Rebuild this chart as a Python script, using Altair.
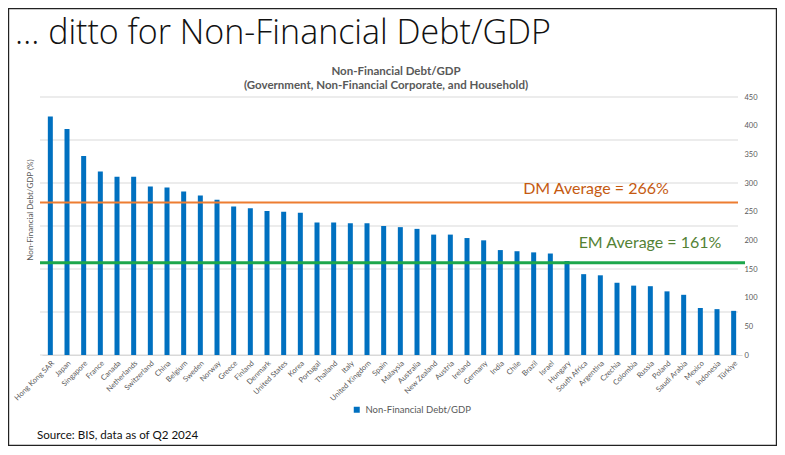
import altair as alt
import pandas as pd

countries = ["Hong Kong SAR", "Japan", "Singapore", "France", "Canada", "Netherlands",
             "Switzerland", "China", "Belgium", "Sweden", "Norway", "Greece", "Finland",
             "Denmark", "United States", "Korea", "Portugal", "Thailand", "Italy",
             "United Kingdom", "Spain", "Malaysia", "Australia", "New Zealand", "Austria",
             "Ireland", "Germany", "India", "Chile", "Brazil", "Israel", "Hungary",
             "South Africa", "Argentina", "Czechia", "Colombia", "Russia", "Poland",
             "Saudi Arabia", "Mexico", "Indonesia", "Türkiye"]
debt_gdp = [416, 394, 347, 320, 311, 311, 294, 292, 285, 278, 271, 259, 256, 251, 250,
            248, 231, 231, 230, 230, 225, 223, 220, 210, 210, 204, 200, 183, 181, 179,
            177, 164, 141, 139, 126, 121, 120, 111, 105, 82, 80, 77]
series_name = "Non-Financial Debt/GDP"
avg_labels = ["DM Average = 266%", "EM Average = 161%"]
avg_values = [266, 161]
y_ticks = [0, 50, 100, 150, 200, 250, 300, 350, 400, 450]
grid_values = [0, 75, 150, 225, 300, 375, 450]

heading = "… ditto for Non-Financial Debt/GDP"
title_line1 = "Non-Financial Debt/GDP"
title_line2 = "(Government, Non-Financial Corporate, and Household)"
y_title = "Non-Financial Debt/GDP (%)"
source_text = "Source: BIS, data as of Q2 2024"

W, H = 700, 258
FONT = "Lato"
GRAY = "#595959"

df = pd.DataFrame({"country": countries, "value": debt_gdp, "series": series_name})

yscale = alt.Scale(domain=[0, 450], nice=False)

bars = alt.Chart(df).mark_bar(size=5).encode(
    x=alt.X("country:N", sort=None, title=None,
            scale=alt.Scale(paddingOuter=0, paddingInner=0),
            axis=alt.Axis(labelAngle=-45, labelFontSize=7.5, labelColor=GRAY,
                          labelFont=FONT, ticks=False, domainColor="#d9d9d9",
                          labelPadding=4, labelOverlap=False)),
    y=alt.Y("value:Q", scale=yscale, title=None,
            axis=alt.Axis(orient="right", values=y_ticks, grid=False, ticks=False,
                          domain=False, labelFontSize=7.5, labelColor=GRAY,
                          labelFont=FONT, labelPadding=2, labelOverlap=False,
                          labelBound=False, labelFlush=False)),
    color=alt.Color("series:N", scale=alt.Scale(range=["#0070C0"]),
                    legend=alt.Legend(title=None, orient="none", legendX=310,
                                      legendY=308, symbolType="square",
                                      symbolSize=36, labelFontSize=9.5,
                                      labelColor=GRAY, labelFont=FONT))
)

grid = alt.Chart(pd.DataFrame({"g": grid_values})).mark_rule(
    color="#d9d9d9", strokeWidth=1
).encode(
    y=alt.Y("g:Q", scale=yscale, axis=None),
    x=alt.value(-2), x2=alt.value(696)
)

dm_df = pd.DataFrame({"label": [avg_labels[0]], "value": [avg_values[0]]})
em_df = pd.DataFrame({"label": [avg_labels[1]], "value": [avg_values[1]]})

dm_rule = alt.Chart(dm_df).mark_rule(color="#ED7D31", strokeWidth=2).encode(
    y=alt.Y("value:Q", scale=yscale, axis=None), x=alt.value(-2), x2=alt.value(696))
em_rule = alt.Chart(em_df).mark_rule(color="#1DA74B", strokeWidth=3).encode(
    y=alt.Y("value:Q", scale=yscale, axis=None), x=alt.value(-2), x2=alt.value(703))

dm_text = alt.Chart(dm_df).mark_text(
    font=FONT, fontSize=16, color="#C55A11", align="center", baseline="alphabetic", dy=-8
).encode(y=alt.Y("value:Q", scale=yscale, axis=None), x=alt.value(554), text="label:N")
em_text = alt.Chart(em_df).mark_text(
    font=FONT, fontSize=16, color="#548235", align="center", baseline="alphabetic", dy=-15
).encode(y=alt.Y("value:Q", scale=yscale, axis=None), x=alt.value(608), text="label:N")


def label(text, x, y, font=FONT, **kw):
    return alt.Chart(pd.DataFrame({"t": [text]})).mark_text(font=font, **kw).encode(
        x=alt.value(x), y=alt.value(y), text="t:N")


heading_t = label(heading, -27, -53, font="Open Sans", fontSize=34, fontWeight=300,
                  color="#111111", align="left", baseline="alphabetic")
t1 = label(title_line1, W / 2 + 4, -22, fontSize=11.5, fontWeight="bold", color=GRAY,
           align="center", baseline="alphabetic")
t2 = label(title_line2, W / 2 - 6, -8, fontSize=11.5, fontWeight="bold", color=GRAY,
           align="center", baseline="alphabetic")
ytitle_t = label(y_title, -11, 113, fontSize=8, color=GRAY, angle=270,
                 align="center", baseline="middle")
source_t = label(source_text, -5, 342, fontSize=11.6, color="#111111",
                 align="left", baseline="alphabetic")

frame = alt.Chart(pd.DataFrame({"f": [0]})).mark_rect(
    fillOpacity=0, stroke="#222222", strokeWidth=1.2
).encode(x=alt.value(-33.4), x2=alt.value(734.4), y=alt.value(-88.4), y2=alt.value(348.4))

chart = alt.layer(
    grid, bars, dm_rule, em_rule, dm_text, em_text,
    heading_t, t1, t2, ytitle_t, source_t, frame
).resolve_scale(y="shared").resolve_axis(y="independent").properties(
    width=W, height=H,
    autosize=alt.AutoSizeParams(type="none"),
    padding={"left": 34, "top": 89, "right": 35, "bottom": 91},
    background="white"
).configure_view(stroke=None)

chart.save("out.html", embed_options={"renderer": "svg", "actions": False})
